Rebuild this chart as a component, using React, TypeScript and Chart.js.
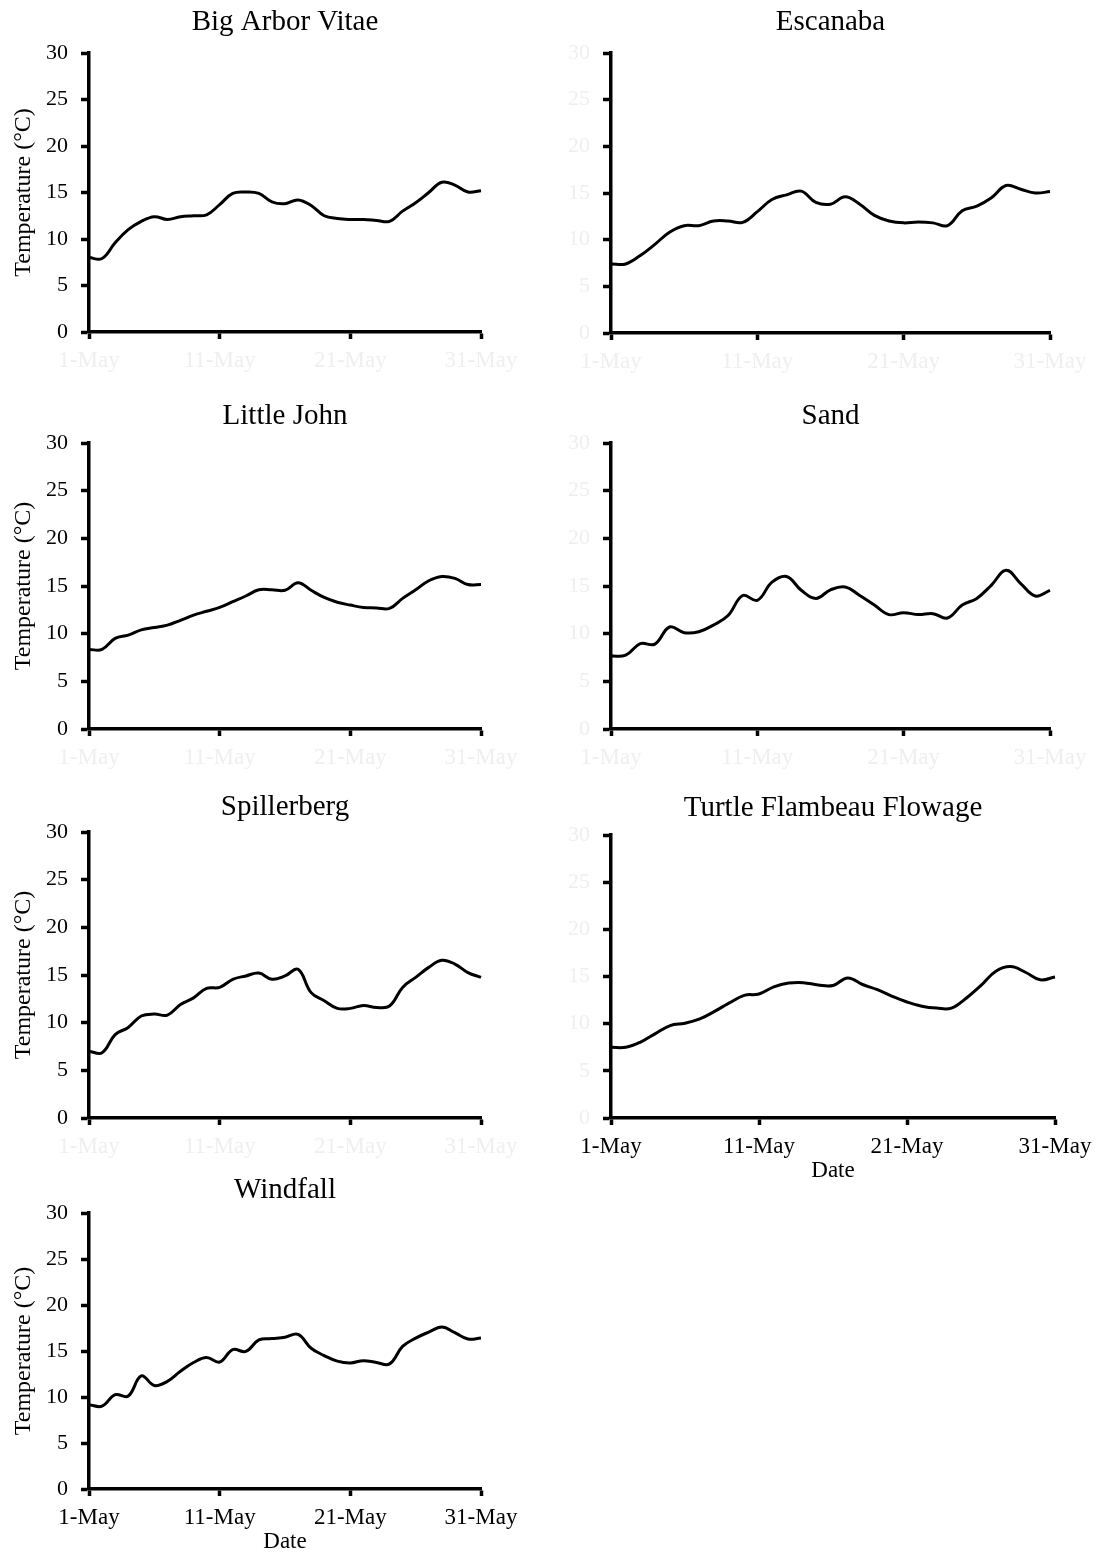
import React, { useEffect, useRef } from 'react';
import { Chart, registerables } from 'chart.js';

Chart.register(...registerables);

// Daily dates along the x axis and the dates that get a labelled tick
const days: string[] = Array.from({ length: 31 }, (_, i) => `${i + 1}-May`);
const dateTicks = ['1-May', '11-May', '21-May', '31-May'];

// Mean daily water temperature (°C), 1–31 May
const bigArborVitae = [8.0, 7.9, 9.6, 11.0, 11.9, 12.4, 12.1, 12.4, 12.5, 12.6, 13.7, 14.9, 15.05, 14.9, 14.0, 13.8, 14.2, 13.6, 12.5, 12.2, 12.1, 12.1, 12.0, 11.9, 13.0, 13.9, 15.0, 16.1, 15.8, 15.05, 15.2];
const escanaba = [7.4, 7.4, 8.3, 9.5, 10.8, 11.5, 11.5, 12.0, 12.0, 11.85, 13.0, 14.3, 14.8, 15.2, 14.0, 13.8, 14.6, 13.8, 12.6, 12.0, 11.8, 11.9, 11.8, 11.5, 13.1, 13.6, 14.5, 15.8, 15.4, 15.0, 15.15];
const littleJohn = [8.35, 8.35, 9.5, 9.85, 10.4, 10.65, 10.9, 11.4, 11.95, 12.35, 12.75, 13.35, 13.95, 14.6, 14.6, 14.55, 15.35, 14.55, 13.8, 13.3, 13.0, 12.75, 12.7, 12.65, 13.7, 14.6, 15.55, 16.0, 15.8, 15.15, 15.15];
const sand = [7.65, 7.75, 8.95, 8.9, 10.7, 10.1, 10.2, 10.9, 11.9, 14.0, 13.5, 15.4, 16.0, 14.55, 13.7, 14.6, 14.9, 14.0, 13.0, 12.0, 12.2, 12.0, 12.1, 11.65, 13.0, 13.7, 15.1, 16.65, 15.25, 13.95, 14.55];
const spillerberg = [7.0, 6.85, 8.75, 9.5, 10.7, 10.9, 10.8, 11.9, 12.6, 13.6, 13.7, 14.55, 14.9, 15.2, 14.55, 14.9, 15.6, 13.15, 12.3, 11.5, 11.5, 11.8, 11.6, 11.75, 13.7, 14.75, 15.8, 16.55, 16.15, 15.25, 14.75];
const turtleFlambeau = [7.5, 7.5, 8.05, 8.95, 9.8, 10.05, 10.5, 11.3, 12.2, 13.0, 13.15, 13.9, 14.3, 14.35, 14.1, 14.05, 14.85, 14.15, 13.6, 12.9, 12.3, 11.85, 11.65, 11.65, 12.7, 14.05, 15.55, 16.05, 15.45, 14.65, 14.95];
const windfall = [9.17, 9.0, 10.25, 10.1, 12.3, 11.25, 11.7, 12.8, 13.75, 14.3, 13.8, 15.15, 14.95, 16.2, 16.35, 16.5, 16.8, 15.3, 14.5, 13.9, 13.7, 13.95, 13.75, 13.6, 15.5, 16.4, 17.05, 17.6, 17.0, 16.3, 16.4];

const FONT = "'Liberation Serif', 'Times New Roman', serif";
const FAINT = '#efefef';
const TITLE_SIZE = 29;
const TITLE_LH = TITLE_SIZE * 1.2;

type PanelSpec = {
  title: string;
  values: number[];
  plotLeft: number;
  plotRight: number;
  plotTop: number;
  plotBottom: number;
  titleY: number;
  yAxisTitle: boolean;
  darkYLabels: boolean;
  darkXLabels: boolean;
  xAxisTitle: boolean;
};

const panels: PanelSpec[] = [
  { title: 'Big Arbor Vitae', values: bigArborVitae, plotLeft: 89, plotRight: 481, plotTop: 53, plotBottom: 332, titleY: 22.5, yAxisTitle: true, darkYLabels: true, darkXLabels: false, xAxisTitle: false },
  { title: 'Escanaba', values: escanaba, plotLeft: 611, plotRight: 1050, plotTop: 53, plotBottom: 333, titleY: 22.5, yAxisTitle: false, darkYLabels: false, darkXLabels: false, xAxisTitle: false },
  { title: 'Little John', values: littleJohn, plotLeft: 89, plotRight: 481, plotTop: 443, plotBottom: 729, titleY: 416, yAxisTitle: true, darkYLabels: true, darkXLabels: false, xAxisTitle: false },
  { title: 'Sand', values: sand, plotLeft: 611, plotRight: 1050, plotTop: 443, plotBottom: 729, titleY: 416, yAxisTitle: false, darkYLabels: false, darkXLabels: false, xAxisTitle: false },
  { title: 'Spillerberg', values: spillerberg, plotLeft: 89, plotRight: 481, plotTop: 832, plotBottom: 1118, titleY: 807.5, yAxisTitle: true, darkYLabels: true, darkXLabels: false, xAxisTitle: false },
  { title: 'Turtle Flambeau Flowage', values: turtleFlambeau, plotLeft: 611, plotRight: 1055, plotTop: 835, plotBottom: 1118, titleY: 808.5, yAxisTitle: false, darkYLabels: false, darkXLabels: true, xAxisTitle: true },
  { title: 'Windfall', values: windfall, plotLeft: 89, plotRight: 481, plotTop: 1213, plotBottom: 1489, titleY: 1190, yAxisTitle: true, darkYLabels: true, darkXLabels: true, xAxisTitle: true },
];

const PAD_RIGHT = 45;

function Panel({ spec }: { spec: PanelSpec }) {
  const ref = useRef<HTMLCanvasElement | null>(null);

  const yAxisWidth = spec.plotLeft < 300 ? 89 : 51;
  const xAxisHeight = spec.xAxisTitle ? 64 : 45;
  const left = spec.plotLeft - yAxisWidth;
  const top = Math.round(spec.titleY - TITLE_LH / 2 - 4);
  const width = spec.plotRight + PAD_RIGHT - left;
  const height = spec.plotBottom + xAxisHeight - top;
  const titlePadTop = spec.titleY - TITLE_LH / 2 - top;
  const titlePadBottom = spec.plotTop - top - titlePadTop - TITLE_LH;

  useEffect(() => {
    if (!ref.current) return;
    const chart = new Chart(ref.current, {
      type: 'line',
      data: {
        labels: days,
        datasets: [
          {
            data: spec.values,
            borderColor: '#000',
            borderWidth: 3,
            pointRadius: 0,
            tension: 0.4,
            fill: false,
            clip: false,
          },
        ],
      },
      options: {
        animation: false,
        responsive: false,
        devicePixelRatio: 1,
        layout: { padding: { left: 0, top: 0, bottom: 0, right: PAD_RIGHT } },
        plugins: {
          legend: { display: false },
          tooltip: { enabled: false },
          title: {
            display: true,
            text: spec.title,
            color: '#000',
            fullSize: false,
            font: { family: FONT, size: TITLE_SIZE, weight: 'normal', lineHeight: 1.2 },
            padding: { top: titlePadTop, bottom: titlePadBottom },
          },
        },
        scales: {
          x: {
            type: 'category',
            offset: false,
            grid: {
              drawOnChartArea: false,
              drawTicks: true,
              tickLength: 7,
              tickWidth: 3.5,
              tickColor: '#000',
              offset: false,
            },
            border: { display: true, color: '#000', width: 3.5 },
            ticks: {
              autoSkip: false,
              maxRotation: 0,
              minRotation: 0,
              padding: 7.7,
              color: spec.darkXLabels ? '#000' : FAINT,
              font: { family: FONT, size: 23, lineHeight: 1.2 },
              callback: function (this: any, value: any) {
                const label = this.getLabelForValue(value);
                return dateTicks.includes(label) ? label : null;
              },
            },
            title: {
              display: spec.xAxisTitle,
              text: 'Date',
              color: '#000',
              font: { family: FONT, size: 23, lineHeight: 1 },
              padding: { top: 0, bottom: 0 },
            },
            afterFit: (scale: any) => {
              scale.height = xAxisHeight;
            },
          },
          y: {
            min: 0,
            max: 30,
            grid: {
              drawOnChartArea: false,
              drawTicks: true,
              tickLength: 8,
              tickWidth: 3.5,
              tickColor: '#000',
            },
            border: { display: true, color: '#000', width: 3.5 },
            ticks: {
              stepSize: 5,
              padding: 13,
              color: spec.darkYLabels ? '#000' : FAINT,
              font: { family: FONT, size: 22, lineHeight: 1.2 },
            },
            title: {
              display: spec.yAxisTitle,
              text: 'Temperature (°C)',
              color: '#000',
              font: { family: FONT, size: 24, lineHeight: 1.2 },
              padding: { top: 9.6, bottom: 0 },
            },
            afterFit: (scale: any) => {
              scale.width = yAxisWidth;
            },
          },
        },
      },
    } as any);
    return () => chart.destroy();
  }, [spec]);

  return (
    <canvas
      ref={ref}
      width={width}
      height={height}
      style={{ position: 'absolute', left, top, width, height }}
    />
  );
}

export default function App() {
  return (
    <div
      style={{
        position: 'absolute',
        left: 0,
        top: 0,
        width: 1102,
        height: 1556,
        overflow: 'hidden',
        background: '#fff',
      }}
    >
      {panels.map((p) => (
        <Panel key={p.title} spec={p} />
      ))}
    </div>
  );
}
